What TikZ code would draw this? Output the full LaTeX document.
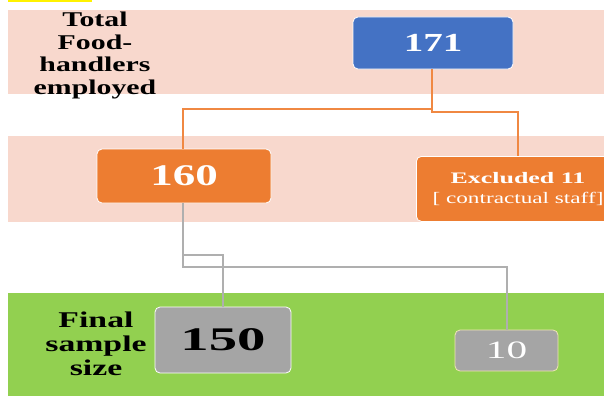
\documentclass[tikz,border=0pt]{standalone}
\usepackage{fontspec}
\usepackage{graphicx}
\setmainfont{Liberation Serif}
\definecolor{pinkband}{RGB}{248,216,205}
\definecolor{greenband}{RGB}{146,208,80}
\definecolor{bluebox}{RGB}{68,114,196}
\definecolor{orangebox}{RGB}{237,125,49}
\definecolor{graybox}{RGB}{165,165,165}
\definecolor{grayline}{RGB}{175,175,175}
\definecolor{orangeline}{RGB}{240,136,66}
\newcommand{\wide}[2]{\scalebox{#1}[1]{#2}}
\begin{document}
\begin{tikzpicture}[x=1pt,y=-1pt,
  boxstyle/.style={draw=white,line width=0.8pt,rounded corners=5pt,inner sep=0pt},
  olink/.style={draw=orangeline,line width=1.4pt},
  glink/.style={draw=grayline,line width=1.4pt}]
\useasboundingbox (0,0) rectangle (604,396);
% bands
\fill[yellow] (8,0) rectangle (92,2);
\fill[pinkband] (8,10) rectangle (604,94);
\fill[pinkband] (8,136) rectangle (604,222);
\fill[greenband] (8,293) rectangle (604,396);
% labels
\node[inner sep=0pt,font=\fontsize{21}{22.5}\selectfont\bfseries] (lab1) at (95,56)
  {\wide{1.42}{\begin{tabular}{@{}c@{}}Total\\Food-\\handlers\\employed\end{tabular}}};
\node[inner sep=0pt,font=\fontsize{22.5}{24}\selectfont\bfseries] (lab2) at (96,347)
  {\wide{1.5}{\begin{tabular}{@{}c@{}}Final\\sample\\size\end{tabular}}};
% boxes
\node[boxstyle,fill=bluebox,minimum width=160pt,minimum height=52pt,text=white,
  font=\fontsize{26}{26}\selectfont\bfseries] (b171) at (433,43) {\wide{1.5}{171}};
\node[boxstyle,fill=orangebox,minimum width=174pt,minimum height=54pt,text=white,
  font=\fontsize{30}{30}\selectfont\bfseries] (b160) at (184,176) {\wide{1.5}{160}};
\node[boxstyle,fill=orangebox,minimum width=200pt,minimum height=65pt,anchor=north west] (bex) at (416,156) {};
\node[text=white,inner sep=0pt,font=\fontsize{16}{20}\selectfont] (bextxt) at (518,189)
  {\begin{tabular}{@{}c@{}}\wide{1.62}{\bfseries Excluded 11}\\\wide{1.45}{[ contractual staff]}\end{tabular}};
\node[boxstyle,fill=graybox,minimum width=136pt,minimum height=66pt,text=black,
  font=\fontsize{33}{33}\selectfont\bfseries] (b150) at (223,340) {\wide{1.72}{150}};
\node[boxstyle,draw={rgb,255:red,240;green,230;blue,180},fill=graybox,minimum width=103pt,minimum height=41pt,text=white,
  font=\fontsize{25}{25}\selectfont] (b10) at (506.5,350.5) {\wide{1.65}{10}};
% connectors
\coordinate (o1) at (432,109);
\coordinate (o2) at (183,109);
\coordinate (o3) at (432,112);
\coordinate (o4) at (518,112);
\draw[olink] (b171.south -| o1) -- (o1) -- (o2) -- (o2 |- b160.north);
\draw[olink] (b171.south -| o3) -- (o3) -- (o4) -- (o4 |- bex.north);
\coordinate (g1) at (183,255);
\coordinate (g2) at (223,255);
\coordinate (g3) at (183,267);
\coordinate (g4) at (507,267);
\draw[glink] (b160.south -| g1) -- (g3) -- (g4) -- (g4 |- b10.north);
\draw[glink] (g1) -- (g2) -- (g2 |- b150.north);
\end{tikzpicture}
\end{document}
